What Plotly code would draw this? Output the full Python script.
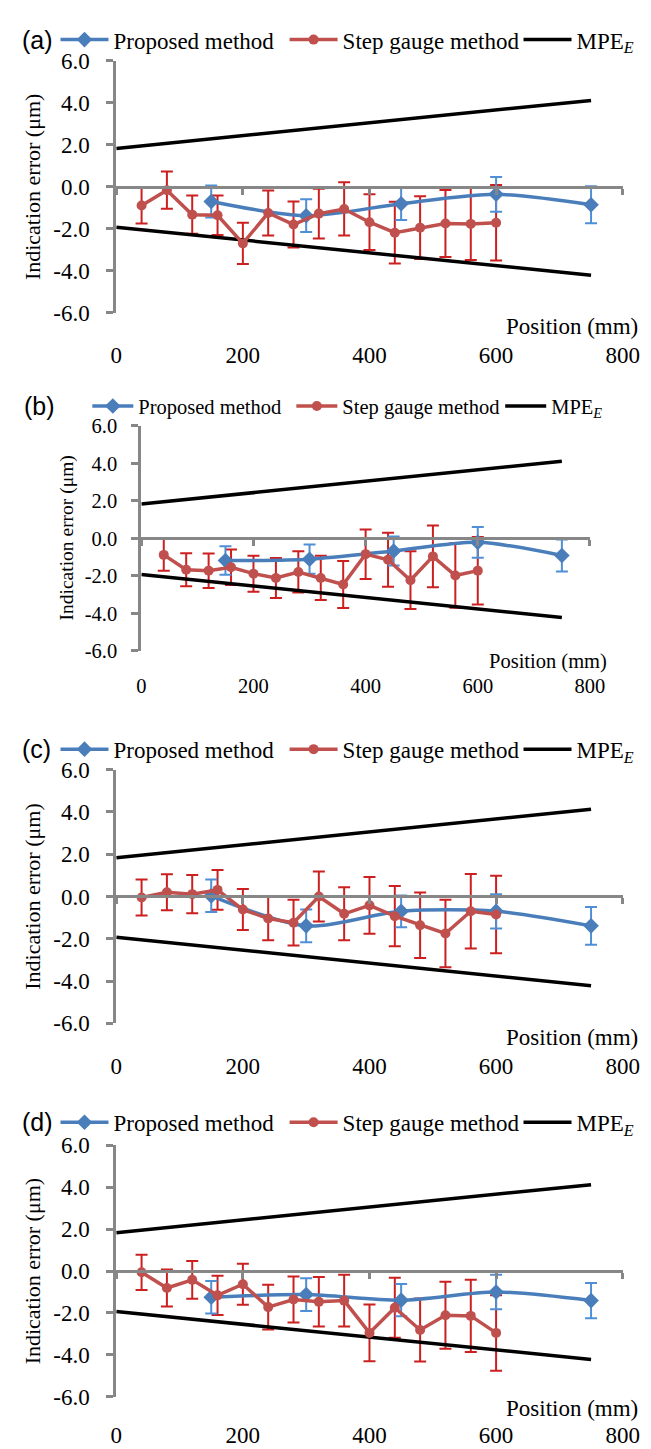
import plotly.graph_objects as go

W, H = 651, 1449

# ---------------- data ----------------
x_step = [40, 80, 120, 160, 200, 240, 280, 320, 360, 400, 440, 480, 520, 560, 600]
x_prop = [150, 300, 450, 600, 750]
x_mpe = [0, 750]
mpe_upper = [1.83, 4.12]
mpe_lower = [-1.93, -4.22]

step_a = [-0.89, -0.16, -1.33, -1.36, -2.70, -1.25, -1.80, -1.28, -1.06, -1.69, -2.19, -1.95, -1.75, -1.77, -1.72]
step_err_a = [0.86, 0.89, 0.91, 0.94, 0.98, 1.07, 1.10, 1.19, 1.27, 1.33, 1.47, 1.50, 1.60, 1.72, 1.80]
prop_a = [-0.70, -1.38, -0.81, -0.36, -0.86]
prop_err_a = [0.76, 0.78, 0.77, 0.83, 0.88]

step_b = [-0.88, -1.67, -1.72, -1.54, -1.88, -2.11, -1.79, -2.11, -2.46, -0.84, -1.14, -2.23, -0.96, -1.98, -1.72]
step_err_b = [0.85, 0.88, 0.92, 0.95, 0.96, 1.07, 1.10, 1.18, 1.25, 1.32, 1.44, 1.54, 1.65, 1.72, 1.80]
prop_b = [-1.18, -1.11, -0.67, -0.21, -0.91]
prop_err_b = [0.76, 0.78, 0.77, 0.82, 0.85]

step_c = [-0.05, 0.20, 0.11, 0.31, -0.62, -1.04, -1.24, 0.00, -0.82, -0.42, -0.93, -1.36, -1.75, -0.70, -0.85]
step_err_c = [0.85, 0.85, 0.90, 0.94, 0.97, 1.03, 1.08, 1.18, 1.25, 1.34, 1.42, 1.55, 1.60, 1.76, 1.83]
prop_c = [0.03, -1.39, -0.70, -0.70, -1.39]
prop_err_c = [0.77, 0.77, 0.75, 0.81, 0.89]

step_d = [-0.06, -0.81, -0.42, -1.16, -0.63, -1.72, -1.36, -1.47, -1.41, -2.95, -1.75, -2.81, -2.11, -2.14, -2.95]
step_err_d = [0.84, 0.88, 0.90, 0.94, 0.98, 1.07, 1.10, 1.18, 1.23, 1.35, 1.43, 1.50, 1.60, 1.72, 1.80]
prop_d = [-1.25, -1.12, -1.39, -1.00, -1.41]
prop_err_d = [0.77, 0.78, 0.77, 0.82, 0.84]

panel_labels = ["(a)", "(b)", "(c)", "(d)"]
series_names = ["Proposed method", "Step gauge method", "MPE<sub><i>E</i></sub>"]
x_tickvals = [0, 200, 400, 600, 800]
x_ticktext = ["0", "200", "400", "600", "800"]
y_tickvals = [-6, -4, -2, 0, 2, 4, 6]
y_ticktext = ["-6.0", "-4.0", "-2.0", "0.0", "2.0", "4.0", "6.0"]

# ---------------- layout geometry (pixels) ----------------
panels = [
    dict(step=step_a, serr=step_err_a, prop=prop_a, perr=prop_err_a,
         left=106, right=631, top=41.7, bottom=297.7, leg_y=20, leg_x=43, mpe_leg_x=523,
         lab_x=6, tick_y=335, pos_y=312, pos_x=649, ytitle_x=19, fs=23, tfs=22,
         itemw=48, ystand=12),
    dict(step=step_b, serr=step_err_b, prop=prop_b, perr=prop_err_b,
         left=132, right=597, top=413, bottom=642, leg_y=393, leg_x=76, mpe_leg_x=504,
         lab_x=8, tick_y=673, pos_y=653, pos_x=617, ytitle_x=55, fs=20.5, tfs=19.5,
         itemw=41, ystand=10),
    dict(step=step_c, serr=step_err_c, prop=prop_c, perr=prop_err_c,
         left=106, right=631, top=762.7, bottom=1021, leg_y=742, leg_x=43, mpe_leg_x=523,
         lab_x=6, tick_y=1058, pos_y=1035, pos_x=649, ytitle_x=19, fs=23, tfs=22,
         itemw=48, ystand=12),
    dict(step=step_d, serr=step_err_d, prop=prop_d, perr=prop_err_d,
         left=106, right=631, top=1145, bottom=1401, leg_y=1121.7, leg_x=43, mpe_leg_x=523,
         lab_x=6, tick_y=1433, pos_y=1413, pos_x=649, ytitle_x=19, fs=23, tfs=22,
         itemw=48, ystand=12),
]

BLUE = "#4a7ebb"
BLUE_ERR = "#4f8fd6"
RED = "#c0504d"
RED_ERR = "#cc1f1f"
GRAY = "#878787"
SERIF = "Liberation Serif"
SANS = "Liberation Sans"
NB = "\u00a0"

def py(px):
    return 1 - px / H

def legname(k):
    return "legend" if k == 1 else f"legend{k}"

fig = go.Figure()
layout = dict(width=W, height=H, margin=dict(l=0, r=0, t=0, b=0),
              paper_bgcolor="white", plot_bgcolor="white", showlegend=True)
annotations = []

for i, p in enumerate(panels):
    n = i + 1
    xa = "x" if n == 1 else f"x{n}"
    ya = "y" if n == 1 else f"y{n}"
    leg = legname(n)
    leg_mpe = legname(n + 4)
    fs = p["fs"]

    # error bars (not in legend)
    fig.add_trace(go.Scatter(x=x_step, y=p["step"], mode="markers", xaxis=xa, yaxis=ya,
                             marker=dict(size=1, color="rgba(0,0,0,0)"), showlegend=False,
                             error_y=dict(type="data", array=p["serr"], color=RED_ERR,
                                          thickness=2, width=6), hoverinfo="skip"))
    fig.add_trace(go.Scatter(x=x_prop, y=p["prop"], mode="markers", xaxis=xa, yaxis=ya,
                             marker=dict(size=1, color="rgba(0,0,0,0)"), showlegend=False,
                             error_y=dict(type="data", array=p["perr"], color=BLUE_ERR,
                                          thickness=2, width=6), hoverinfo="skip"))
    # MPE lines
    fig.add_trace(go.Scatter(x=x_mpe, y=mpe_upper, mode="lines", xaxis=xa, yaxis=ya,
                             name=series_names[2], legend=leg_mpe,
                             line=dict(color="black", width=3.5), showlegend=True))
    fig.add_trace(go.Scatter(x=x_mpe, y=mpe_lower, mode="lines", xaxis=xa, yaxis=ya,
                             line=dict(color="black", width=3.5), showlegend=False))
    # main series
    fig.add_trace(go.Scatter(x=x_prop, y=p["prop"], mode="lines+markers", xaxis=xa, yaxis=ya,
                             name=series_names[0] + NB, legend=leg, legendrank=1,
                             line=dict(color=BLUE, width=3.5, shape="spline", smoothing=0.8),
                             marker=dict(symbol="diamond", size=12, color=BLUE)))
    fig.add_trace(go.Scatter(x=x_step, y=p["step"], mode="lines+markers", xaxis=xa, yaxis=ya,
                             name=series_names[1], legend=leg, legendrank=2,
                             line=dict(color=RED, width=3.5),
                             marker=dict(symbol="circle", size=10, color=RED)))

    y0p, y1p = py(p["bottom"]), py(p["top"])
    zero_px = (p["top"] + p["bottom"]) / 2
    standoff = int(round(p["tick_y"] - zero_px - 6 - fs * 0.5 - 7))
    layout["xaxis" if n == 1 else f"xaxis{n}"] = dict(
        domain=[p["left"] / W, p["right"] / W], range=[0, 800], anchor="free",
        position=(y0p + y1p) / 2, showline=True, linecolor=GRAY, linewidth=3,
        ticks="outside", ticklen=6, tickwidth=3, tickcolor=GRAY,
        tickvals=x_tickvals, ticktext=x_ticktext, ticklabelstandoff=standoff,
        tickfont=dict(family=SERIF, size=fs, color="black"),
        showgrid=False, zeroline=False, fixedrange=True)
    layout["yaxis" if n == 1 else f"yaxis{n}"] = dict(
        domain=[y0p, y1p], range=[-6, 6], anchor=xa,
        showline=True, linecolor=GRAY, linewidth=3,
        ticks="outside", ticklen=7, tickwidth=3, tickcolor=GRAY,
        tickvals=y_tickvals, ticktext=y_ticktext, ticklabelstandoff=p["ystand"],
        tickfont=dict(family=SERIF, size=fs, color="black"),
        showgrid=False, zeroline=False, fixedrange=True)
    for lg, lx in ((leg, p["leg_x"]), (leg_mpe, p["mpe_leg_x"])):
        layout[lg] = dict(orientation="h", x=lx / W, y=py(p["leg_y"]),
                          xanchor="left", yanchor="middle", bgcolor="rgba(0,0,0,0)",
                          font=dict(family=SERIF, size=fs, color="black"),
                          itemwidth=p["itemw"], tracegroupgap=0, traceorder="normal")

    annotations.append(dict(text=panel_labels[i], x=p["lab_x"] / W, y=py(p["leg_y"]),
                            xref="paper", yref="paper", xanchor="left", yanchor="middle",
                            showarrow=False, font=dict(family=SANS, size=25, color="black")))
    annotations.append(dict(text="Position (mm)", x=p["pos_x"] / W, y=py(p["pos_y"]),
                            xref="paper", yref="paper", xanchor="right", yanchor="middle",
                            showarrow=False, font=dict(family=SERIF, size=fs, color="black")))
    annotations.append(dict(text="Indication error (μm)", x=p["ytitle_x"] / W,
                            y=(y0p + y1p) / 2, xref="paper", yref="paper",
                            xanchor="center", yanchor="middle", textangle=-90,
                            showarrow=False, font=dict(family=SERIF, size=p["tfs"], color="black")))

layout["annotations"] = annotations
fig.update_layout(**layout)
fig.write_html("out.html")
